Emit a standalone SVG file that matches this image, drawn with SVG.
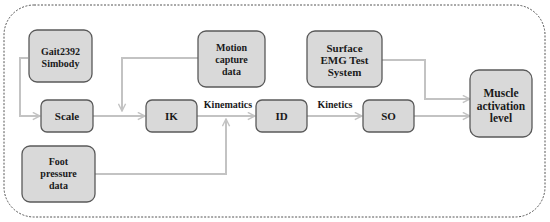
<svg xmlns="http://www.w3.org/2000/svg" width="550" height="222" viewBox="0 0 550 222">
<defs>
<style>
.box{fill:#d9d9d9;stroke:#595959;stroke-width:1.3}
.t{font-family:"Liberation Serif","Times New Roman",serif;font-weight:bold;font-size:10px;fill:#1a1a1a;text-anchor:middle}
.t11{font-size:11px}
.t12{font-size:11.5px}
.c{fill:none;stroke:#c3c3c3;stroke-width:2}
</style>
<marker id="ah" viewBox="0 0 10 10" refX="9" refY="5" markerWidth="9" markerHeight="9" markerUnits="userSpaceOnUse" orient="auto">
<path d="M1,1 L9,5 L1,9" fill="none" stroke="#c3c3c3" stroke-width="1.6"/>
</marker>
</defs>
<rect x="4" y="5" width="541" height="212" rx="30" ry="30" fill="none" stroke="#555" stroke-width="1" stroke-dasharray="2,1.5"/>
<g id="connectors">
<path class="c" d="M28,58 H20 V116 H40" marker-end="url(#ah)"/>
<path class="c" d="M198,58 H122 V111" marker-end="url(#ah)"/>
<path class="c" d="M93,116 H145" marker-end="url(#ah)"/>
<path class="c" d="M197,116 H255" marker-end="url(#ah)"/>
<path class="c" d="M95,174 H226 V119" marker-end="url(#ah)"/>
<path class="c" d="M307,116 H362" marker-end="url(#ah)"/>
<path class="c" d="M414,116 H470" marker-end="url(#ah)"/>
<path class="c" d="M382,60 H425 V99 H470" marker-end="url(#ah)"/>
</g>
<text class="t" x="228" y="108">Kinematics</text>
<text class="t" x="335" y="108">Kinetics</text>
<g id="gait"><rect class="box" x="29" y="30" width="63" height="52" rx="8"/><text class="t" x="60.5" y="55">Gait2392</text><text class="t" x="60.5" y="67">Simbody</text></g>
<g id="motion"><rect class="box" x="198" y="31" width="67" height="56" rx="8"/><text class="t" x="231.5" y="51">Motion</text><text class="t" x="231.5" y="63">capture</text><text class="t" x="231.5" y="75">data</text></g>
<g id="emg"><rect class="box" x="307" y="31" width="75" height="56" rx="8"/><text class="t t11" x="344.5" y="52">Surface</text><text class="t t11" x="344.5" y="64">EMG Test</text><text class="t t11" x="344.5" y="76">System</text></g>
<g id="muscle"><rect class="box" x="470" y="70" width="62" height="67" rx="9"/><text class="t t12" x="501" y="97">Muscle</text><text class="t t12" x="501" y="109.5">activation</text><text class="t t12" x="501" y="122">level</text></g>
<g id="scale"><rect class="box" x="41" y="100" width="52" height="32" rx="6"/><text class="t t11" x="67" y="120">Scale</text></g>
<g id="ik"><rect class="box" x="146" y="100" width="51" height="32" rx="6"/><text class="t t11" x="171.5" y="120">IK</text></g>
<g id="id"><rect class="box" x="256" y="100" width="51" height="32" rx="6"/><text class="t t11" x="281.5" y="120">ID</text></g>
<g id="so"><rect class="box" x="363" y="100" width="51" height="32" rx="6"/><text class="t t11" x="388.5" y="120">SO</text></g>
<g id="foot"><rect class="box" x="22" y="146" width="73" height="56" rx="8"/><text class="t" x="58.5" y="165">Foot</text><text class="t" x="58.5" y="177">pressure</text><text class="t" x="58.5" y="189">data</text></g>
</svg>
